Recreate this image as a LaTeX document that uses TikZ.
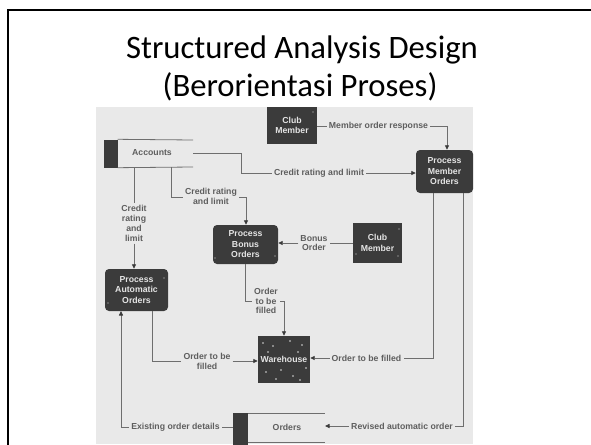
\documentclass[tikz,border=0pt]{standalone}
\usepackage{fontspec}
\setmainfont{Carlito}
\newfontfamily\dfdfont{Liberation Sans}
\usetikzlibrary{arrows.meta}

\definecolor{photo}{HTML}{E9E9E9}
\definecolor{ink}{HTML}{5E5E5E}
\definecolor{boxfill}{HTML}{3B3B3B}
\definecolor{wire}{HTML}{6E6E6E}
\definecolor{tip}{HTML}{3A3A3A}

\tikzset{
  proc/.style={fill=boxfill, draw=none, rounded corners=4pt, align=center,
    text=white!90!black, inner sep=0pt,
    font=\dfdfont\bfseries\fontsize{8.7}{10.5}\selectfont},
  extent/.style={proc, rounded corners=0pt},
  storebar/.style={fill=boxfill, draw=none, inner sep=0pt},
  lbl/.style={text=ink, align=center, inner sep=2pt,
    font=\dfdfont\bfseries\fontsize{8.7}{9.8}\selectfont},
  wire/.style={draw=wire, line width=0.8pt},
  flow/.style={wire, -{Triangle[length=4.5pt,width=4pt,color=tip]}},
  speck/.style={fill=white!85!black, draw=none},
  slidetitle/.style={anchor=base, font=\fontsize{32.7}{38}\selectfont},
}

\begin{document}
\begin{tikzpicture}[x=1pt,y=-1pt]
\useasboundingbox (0,0) rectangle (591,444);
\begin{scope}
\clip (0,0) rectangle (591,444);

% slide frame
\draw[line width=2.5pt] (8,450) -- (8,10) -- (600,10);

% title
\node[slidetitle] (title1) at (302,59) {Structured Analysis Design};
\node[slidetitle] (title2) at (300,96) {(Berorientasi Proses)};

% scanned diagram backdrop
\fill[photo] (96,107) rectangle (473,444);

% ---- processes and external entities
\node[extent, minimum width=50, minimum height=37] (cm1) at (292,125.5) {Club\\Member};
\node[proc, minimum width=57, minimum height=43] (pmo) at (444.5,171.5) {Process\\Member\\Orders};
\node[proc, minimum width=65, minimum height=39] (pbo) at (245.5,244.5) {Process\\Bonus\\Orders};
\node[extent, minimum width=49, minimum height=40] (cm2) at (377.5,243) {Club\\Member};
\node[proc, minimum width=63, minimum height=42] (pao) at (136.5,290) {Process\\Automatic\\Orders};
\node[extent, minimum width=52, minimum height=47] (wh) at (284,359.5) {Warehouse};

% specks on the entity boxes
\foreach \px/\py in {263/343, 273/346, 290/341, 302/345, 268/352, 298/352, 266/372, 281/370, 293/376, 306/368, 276/379, 300/380}
  \fill[speck] (\px,\py) circle (0.8);
\foreach \px/\py in {399/229, 398/256, 356/254, 215/258, 275/256, 164/278, 108/303, 313/112}
  \fill[speck] (\px,\py) circle (0.6);

% ---- data stores
\node[storebar, minimum width=14, minimum height=28] (accbar) at (110.5,153.5) {};
\coordinate (acctop) at (193,140);
\coordinate (accbot) at (193,167);
\draw[wire] (accbar.north east) -- (acctop);
\draw[wire] (accbar.south east) -- (accbot);
\node[lbl] (acc) at (152,153) {Accounts};

\node[storebar, minimum width=15, minimum height=36, anchor=north] (ordbar) at (240.5,413) {};
\coordinate (ordtop) at (325,413);
\coordinate (ordbot) at (325,442);
\draw[wire] (ordbar.north east) -- (ordtop);
\draw[wire] (ordbar.north east |- ordbot) -- (ordbot);
\node[lbl] (ord) at (287,427) {Orders};

% ---- flow labels
\node[lbl] (mor) at (378.5,126) {Member order response};
\node[lbl] (crl1) at (319,173) {Credit rating and limit};
\node[lbl] (crl2) at (134,223.5) {Credit\\rating\\and\\limit};
\node[lbl] (crl3) at (211,196) {Credit rating\\and limit};
\node[lbl] (bo) at (314,243) {Bonus\\Order};
\node[lbl] (otb1) at (266,301) {Order\\to be\\filled};
\node[lbl] (otb2) at (207,361) {Order to be\\filled};
\node[lbl] (otb3) at (366.5,358) {Order to be filled};
\node[lbl] (rao) at (402,426) {Revised automatic order};
\node[lbl] (eod) at (175.5,427) {Existing order details};

% ---- bend points
\coordinate (accout) at (193,153);
\coordinate (b1a) at (241,153);
\coordinate (b1b) at (241,173);
\coordinate (accl) at (134,167);
\coordinate (accm) at (171,167);
\coordinate (b3a) at (171,197);
\coordinate (b3b) at (246,197);
\coordinate (pmoin) at (447,126);
\coordinate (whin) at (284,301);
\coordinate (paoout) at (152,311);
\coordinate (b5) at (152,361);
\coordinate (pmoa) at (433,193);
\coordinate (b6) at (433,358);
\coordinate (pmob) at (463,193);
\coordinate (b7) at (463,426);
\coordinate (ordin) at (325,426);
\coordinate (ordout) at (233,427);
\coordinate (b8) at (121,427);
\coordinate (paoin) at (121,311);

% ---- data flows
\draw[wire] (cm1.east |- mor) -- (mor.west);
\draw[flow] (mor.east) -- (pmoin) -- (pmoin |- pmo.north);

\draw[wire] (accout) -- (b1a) -- (b1b) -- (crl1.west);
\draw[flow] (crl1.east) -- (crl1.east -| pmo.west);

\draw[wire] (accl) -- (crl2.north);
\draw[flow] (crl2.south) -- (crl2.south |- pao.north);

\draw[wire] (accm) -- (b3a) -- (b3a -| crl3.west);
\draw[flow] (b3b -| crl3.east) -- (b3b) -- (b3b |- pbo.north);

\draw[wire] (cm2.west) -- (cm2.west -| bo.east);
\draw[flow] (bo.west) -- (bo.west -| pbo.east);

\draw[wire] (pbo.south) -- (pbo.south |- otb1.west) -- (otb1.west);
\draw[flow] (otb1.east) -- (whin) -- (wh.north);

\draw[wire] (paoout) -- (b5) -- (b5 -| otb2.west);
\draw[flow] (b5 -| otb2.east) -- (b5 -| wh.west);

\draw[wire] (pmoa) -- (b6) -- (b6 -| otb3.east);
\draw[flow] (b6 -| otb3.west) -- (b6 -| wh.east);

\draw[wire] (pmob) -- (b7) -- (b7 -| rao.east);
\draw[flow] (b7 -| rao.west) -- (ordin);

\draw[wire] (ordout) -- (eod.east);
\draw[flow] (eod.west) -- (b8) -- (paoin);
\end{scope}
\end{tikzpicture}
\end{document}
